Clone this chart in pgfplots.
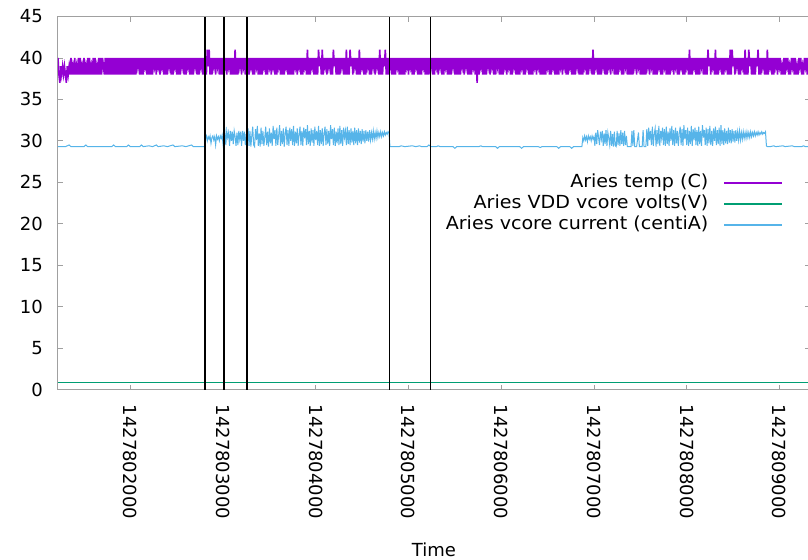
\documentclass[border=0pt]{standalone}
\usepackage{fontspec}
\setmainfont{DejaVu Sans}
\usepackage{pgfplots}
\pgfplotsset{compat=1.18}
\definecolor{tempc}{HTML}{9400D3}
\definecolor{voltc}{HTML}{009E73}
\definecolor{currc}{HTML}{56B4E9}
\definecolor{bord}{HTML}{A0A0A0}
\begin{document}
\fontsize{18bp}{22bp}\selectfont
\begin{tikzpicture}
\begin{axis}[
  scale only axis, width=752bp, height=373bp,
  xmin=122, xmax=933, ymin=0, ymax=45,
  xtick={200,300,400,500,600,700,800,900},
  xticklabels={1427802000,1427803000,1427804000,1427805000,1427806000,1427807000,1427808000,1427809000},
  ytick={0,5,...,45},
  /pgf/number format/assume math mode=true,
  xticklabel style={rotate=-90, anchor=west},
  xticklabel shift=9bp, yticklabel shift=9bp,
  tick align=inside, major tick length=5bp,
  tick style={bord, line width=0.8bp},
  axis line style={bord, line width=1bp},
  xlabel={Time},
  xlabel style={at={(rel axis cs:0.5,0)}, anchor=center, yshift=-160.5bp},
  legend style={draw=none, fill=none, at={(rel axis cs:0.9641,0.577)}, anchor=north east,
    inner sep=0pt, outer sep=0pt, row sep=4bp, column sep=15bp,
    nodes={inner sep=0pt, text height=13bp, text depth=4bp, xscale=1.06},
    font=\fontsize{18bp}{22bp}\selectfont},
  legend plot pos=right, legend cell align=right,
  legend image code/.code={\draw[#1] (0bp,0bp) -- (58bp,0bp);},
]
\coordinate (bl) at (rel axis cs:0,0);
\addlegendimage{tempc, line width=1.6bp}
\addlegendentry{Aries temp (C)}
\addlegendimage{voltc, line width=1.6bp}
\addlegendentry{Aries VDD vcore volts(V)}
\addlegendimage{currc, line width=1.6bp}
\addlegendentry{Aries vcore current (centiA)}
% Aries temp (C) -- x = (time - 1427800000)/10
\addplot[tempc, line width=1.6bp, forget plot] coordinates {
(122,40)(123,38)(124,37)(125,39)(126,38)(127,39)(128,38)(129,39)(130,38)(131,37)(132,39)(133,38)(134,39)
(135,38)(136,40)(137,38)(138,39)(139,38)(140,40)(141,38)(142,39)(143,38)(144,40)(145,38)(146,40)(147,38)(148,39)(149,38)(150,40)(151,38)(152,39)(153,38)(154,40)
(155,38)(156,40)(157,38)(158,39)(159,38)(160,40)(161,38)(162,40)(163,38)(164,39)(165,38)(166,40)(167,38)(168,40)(169,38)(170,40)(171,39)
(172,38)(173,40)(174,38)(175,40)(176,38)(177,40)(178,38)(179,40)(180,38)(181,40)(182,38)(183,40)(184,38)(185,40)(186,38)(187,40)(188,38)(189,40)(190,38)(191,40)
(192,38)(193,40)(194,38)(195,40)(196,38)(197,40)(198,38)(199,40)(200,38)(201,40)(202,38)(203,40)(204,38)(205,40)(206,38)(207,40)(208,39)(209,40)(210,38)(211,40)
(212,38)(213,40)(214,38)(215,40)(216,39)(217,40)(218,38)(219,40)(220,38)(221,40)(222,38)(223,40)(224,38)(225,40)(226,39)(227,40)(228,38)(229,40)(230,39)(231,40)
(232,38)(233,40)(234,39)(235,40)(236,38)(237,40)(238,38)(239,40)(240,38)(241,40)(242,39)(243,40)(244,38)(245,40)(246,38)(247,40)(248,39)(249,40)(250,38)(251,40)
(252,38)(253,40)(254,38)(255,40)(256,39)(257,40)(258,38)(259,40)(260,38)(261,40)(262,39)(263,40)(264,38)(265,40)(266,38)(267,40)(268,38)(269,40)(270,39)(271,40)
(272,38)(273,40)(274,38)(275,40)(276,39)(277,40)(278,38)(279,40)(280,38)(281,40)(282,38)(283,41)(284,39)(285,41)(286,38)(287,40)(288,38)(289,40)(290,39)(291,40)
(292,38)(293,40)(294,39)(295,40)(296,38)(297,40)(298,38)(299,40)(300,38)(301,40)(302,39)(303,40)(304,38)(305,40)(306,39)(307,40)(308,38)(309,40)(310,38)(311,40)
(312,38)(313,41)(314,38)(315,40)(316,38)(317,40)(318,39)(319,40)(320,38)(321,40)(322,39)(323,40)(324,38)(325,40)(326,38)(327,40)(328,38)(329,40)(330,39)(331,40)
(332,38)(333,40)(334,38)(335,40)(336,39)(337,40)(338,38)(339,40)(340,38)(341,40)(342,38)(343,40)(344,39)(345,40)(346,38)(347,40)(348,38)(349,40)(350,39)(351,40)
(352,38)(353,40)(354,39)(355,40)(356,38)(357,40)(358,38)(359,40)(360,39)(361,40)(362,38)(363,40)(364,38)(365,40)(366,38)(367,40)(368,39)(369,40)(370,38)(371,40)
(372,38)(373,40)(374,38)(375,40)(376,38)(377,40)(378,39)(379,40)(380,38)(381,40)(382,39)(383,40)(384,38)(385,40)(386,38)(387,40)(388,39)(389,40)(390,38)(391,41)
(392,38)(393,40)(394,38)(395,40)(396,39)(397,40)(398,38)(399,40)(400,38)(401,40)(402,38)(403,41)(404,39)(405,40)(406,38)(407,41)(408,38)(409,40)(410,39)(411,40)
(412,38)(413,40)(414,39)(415,40)(416,38)(417,40)(418,38)(419,41)(420,39)(421,40)(422,38)(423,40)(424,38)(425,40)(426,38)(427,40)(428,39)(429,40)(430,38)(431,40)
(432,38)(433,41)(434,38)(435,40)(436,38)(437,41)(438,39)(439,40)(440,38)(441,40)(442,39)(443,40)(444,38)(445,40)(446,38)(447,41)(448,38)(449,40)(450,39)(451,40)
(452,38)(453,40)(454,38)(455,40)(456,39)(457,40)(458,38)(459,40)(460,38)(461,40)(462,39)(463,40)(464,38)(465,40)(466,39)(467,40)(468,38)(469,41)(470,38)(471,40)
(472,38)(473,40)(474,39)(475,41)(476,38)(477,40)(478,38)(479,40)(480,39)(481,40)(482,38)(483,40)(484,38)(485,40)(486,38)(487,40)(488,39)(489,40)(490,38)(491,40)
(492,38)(493,40)(494,38)(495,40)(496,38)(497,40)(498,39)(499,40)(500,38)(501,40)(502,39)(503,40)(504,38)(505,40)(506,38)(507,40)(508,39)(509,40)(510,38)(511,40)
(512,38)(513,40)(514,38)(515,40)(516,39)(517,40)(518,38)(519,40)(520,38)(521,40)(522,38)(523,40)(524,39)(525,40)(526,38)(527,40)(528,38)(529,40)(530,39)(531,40)
(532,38)(533,40)(534,39)(535,40)(536,38)(537,40)(538,38)(539,40)(540,39)(541,40)(542,38)(543,40)(544,38)(545,40)(546,38)(547,40)(548,39)(549,40)(550,38)(551,40)
(552,38)(553,40)(554,38)(555,40)(556,38)(557,40)(558,39)(559,40)(560,38)(561,40)(562,39)(563,40)(564,38)(565,40)(566,38)(567,40)(568,38)(569,40)(570,39)(571,40)
(572,38)(573,40)(574,37)(575,40)(576,38)(577,40)(578,39)(579,40)(580,38)(581,40)(582,38)(583,40)(584,38)(585,40)(586,39)(587,40)(588,38)(589,40)(590,39)(591,40)
(592,38)(593,40)(594,38)(595,40)(596,39)(597,40)(598,38)(599,40)(600,38)(601,40)(602,38)(603,40)(604,39)(605,40)(606,38)(607,40)(608,39)(609,40)(610,38)(611,40)
(612,38)(613,40)(614,39)(615,40)(616,38)(617,40)(618,38)(619,40)(620,38)(621,40)(622,39)(623,40)(624,38)(625,40)(626,38)(627,40)(628,39)(629,40)(630,38)(631,40)
(632,38)(633,40)(634,38)(635,40)(636,39)(637,40)(638,38)(639,40)(640,39)(641,40)(642,38)(643,40)(644,38)(645,40)(646,38)(647,40)(648,38)(649,40)(650,39)(651,40)
(652,38)(653,40)(654,38)(655,40)(656,39)(657,40)(658,38)(659,40)(660,38)(661,40)(662,38)(663,40)(664,39)(665,40)(666,38)(667,40)(668,39)(669,40)(670,38)(671,40)
(672,38)(673,40)(674,39)(675,40)(676,38)(677,40)(678,38)(679,40)(680,38)(681,40)(682,39)(683,40)(684,38)(685,40)(686,38)(687,40)(688,38)(689,40)(690,39)(691,40)
(692,38)(693,40)(694,38)(695,40)(696,39)(697,40)(698,38)(699,41)(700,38)(701,40)(702,39)(703,40)(704,38)(705,40)(706,38)(707,40)(708,38)(709,40)(710,39)(711,40)
(712,38)(713,40)(714,38)(715,40)(716,39)(717,40)(718,38)(719,40)(720,39)(721,40)(722,38)(723,40)(724,38)(725,40)(726,38)(727,40)(728,39)(729,40)(730,38)(731,40)
(732,38)(733,40)(734,39)(735,40)(736,38)(737,40)(738,38)(739,40)(740,38)(741,40)(742,38)(743,40)(744,39)(745,40)(746,38)(747,40)(748,39)(749,40)(750,38)(751,40)
(752,38)(753,40)(754,38)(755,40)(756,38)(757,40)(758,39)(759,40)(760,38)(761,40)(762,39)(763,40)(764,38)(765,40)(766,38)(767,40)(768,38)(769,40)(770,39)(771,40)
(772,38)(773,40)(774,38)(775,40)(776,39)(777,40)(778,38)(779,40)(780,38)(781,40)(782,38)(783,40)(784,39)(785,40)(786,38)(787,40)(788,39)(789,40)(790,38)(791,40)
(792,38)(793,40)(794,39)(795,40)(796,38)(797,40)(798,38)(799,40)(800,39)(801,40)(802,38)(803,41)(804,38)(805,40)(806,38)(807,40)(808,39)(809,40)(810,38)(811,40)
(812,38)(813,40)(814,38)(815,40)(816,39)(817,40)(818,38)(819,40)(820,38)(821,40)(822,38)(823,41)(824,39)(825,40)(826,38)(827,40)(828,39)(829,40)(830,38)(831,41)
(832,38)(833,40)(834,38)(835,40)(836,39)(837,40)(838,38)(839,40)(840,38)(841,40)(842,39)(843,40)(844,38)(845,40)(846,38)(847,41)(848,38)(849,41)(850,39)(851,40)
(852,38)(853,40)(854,39)(855,40)(856,38)(857,40)(858,38)(859,40)(860,39)(861,40)(862,38)(863,41)(864,38)(865,40)(866,38)(867,41)(868,39)(869,40)(870,38)(871,40)
(872,38)(873,40)(874,38)(875,40)(876,39)(877,41)(878,38)(879,40)(880,38)(881,40)(882,39)(883,40)(884,38)(885,40)(886,38)(887,41)(888,38)(889,40)(890,39)(891,40)
(892,38)(893,40)(894,38)(895,40)(896,39)(897,40)(898,38)(899,40)(900,39)(901,40)(902,38)(903,39)(904,38)(905,40)(906,38)(907,40)(908,39)(909,40)(910,38)(911,39)
(912,38)(913,40)(914,39)(915,40)(916,38)(917,40)(918,38)(919,39)(920,38)(921,40)(922,39)(923,40)(924,38)(925,39)(926,38)(927,40)(928,39)(929,40)(930,38)(931,40)
(932,38)(933,40)
};
% Aries VDD vcore volts(V)
\addplot[voltc, line width=1bp, forget plot] coordinates {(122,0.87)(500,0.87)(933,0.87)};
% Aries vcore current (centiA)
\addplot[currc, line width=1bp, forget plot] coordinates {
(122,29.3)(130,29.3)(134,29.5)(136,29.3)(150,29.3)(152,29.5)(154,29.3)(180,29.3)(182,29.5)(184,29.3)(196,29.3)(198,29.5)(200,29.3)(210,29.3)(212,29.5)(214,29.3)(220,29.4)(224,29.3)(228,29.5)(230,29.3)(236,29.4)(240,29.3)(246,29.5)(248,29.3)(256,29.4)(260,29.3)(266,29.5)(268,29.3)(276,29.3)(280,29.3)
(281,30.3)(282,30.6)(283,30.0)(284,30.5)(285,30.2)(286,30.6)(287,29.7)(288,30.4)(289,30.6)(290,30.1)(291,30.5)(292,29.5)(293,30.6)(294,30.2)(295,30.5)(296,30.0)(297,30.6)(298,30.3)(299,30.7)(300,29.6)(301,30.4)
(302,31.1)(303,29.5)(304,31.2)(305,30.4)(306,31.0)(307,29.4)(308,31.2)(309,30.0)(310,31.1)(311,29.6)(312,31.2)(313,30.5)(314,29.4)(315,31.0)(316,29.5)(317,31.2)(318,30.2)(319,31.1)(320,29.4)(321,31.2)(322,30.0)(323,31.1)(324,29.5)(325,30.8)(326,29.4)
(327,31.5)(328,29.4)(329,31.2)(330,29.3)(331,30.6)(332,31.7)(333,29.5)(334,29.3)(335,31.4)(336,30.1)(337,31.8)(338,29.4)(339,30.9)(340,29.3)(341,31.6)(342,29.6)(343,31.2)(344,29.4)(345,30.4)(346,31.7)
(347,29.5)(348,31.1)(349,29.3)(350,31.5)(351,29.7)(352,31.0)(353,29.4)(354,31.8)(355,30.2)(356,31.3)(357,29.4)(358,31.6)(359,29.5)(360,30.7)(361,31.9)(362,29.4)(363,31.2)(364,29.6)(365,31.5)(366,29.3)
(367,30.9)(368,31.7)(369,29.5)(370,31.3)(371,29.4)(372,31.6)(373,30.0)(374,31.4)(375,29.5)(376,31.8)(377,29.4)(378,31.1)(379,29.7)(380,31.5)(381,29.4)(382,30.8)(383,31.7)(384,29.5)(385,31.2)(386,29.4)
(387,31.6)(388,30.3)(389,31.4)(390,29.5)(391,31.9)(392,29.6)(393,31.2)(394,29.4)(395,31.5)(396,29.8)(397,31.3)(398,29.4)(399,31.7)(400,30.1)(401,31.2)(402,29.5)(403,31.8)(404,29.4)(405,31.3)(406,29.6)
(407,31.5)(408,29.4)(409,30.9)(410,31.7)(411,29.5)(412,31.4)(413,29.6)(414,31.2)(415,29.4)(416,31.9)(417,30.2)(418,31.4)(419,29.5)(420,31.6)(421,29.4)(422,31.1)(423,29.7)(424,31.5)(425,29.5)(426,31.8)
(427,29.6)(428,31.3)(429,29.4)(430,31.6)(431,30.4)(432,31.2)(433,29.5)(434,31.7)(435,29.6)(436,31.3)(437,29.5)(438,31.5)(439,29.8)(440,31.2)(441,29.5)(442,31.6)(443,29.7)(444,31.3)(445,29.5)(446,31.5)
(447,29.8)(448,31.2)(449,29.6)(450,31.4)(451,29.9)(452,31.2)(453,29.7)(454,31.3)(455,30.0)(456,31.1)(457,29.9)(458,31.3)(459,30.1)(460,31.0)(461,30.2)(462,31.2)(463,30.2)(464,31.0)(465,30.3)(466,31.2)
(467,30.4)(468,31.0)(469,30.5)(470,31.1)(471,30.5)(472,31.0)(473,30.6)(474,31.1)(475,30.7)(476,31.0)(477,30.8)(478,31.1)(479,30.9)
(480,29.3)(490,29.3)(492,29.4)(496,29.3)(504,29.4)(508,29.3)(512,29.4)(514,29.3)(520,29.3)(522,29.5)(524,29.3)(530,29.3)(532,29.4)(534,29.3)(548,29.3)(550,29.1)(552,29.3)(576,29.3)(578,29.4)(580,29.3)
(594,29.3)(596,29.1)(598,29.3)(620,29.3)(622,29.1)(624,29.3)(640,29.3)(642,29.2)(644,29.3)(660,29.3)(662,29.1)(664,29.3)(674,29.3)(676,29.1)(678,29.3)(687,29.3)
(688,30.4)(689,30.0)(690,30.6)(691,30.1)(692,30.5)(693,29.9)(694,30.6)(695,30.2)(696,30.5)(697,30.0)(698,30.6)(699,30.2)(700,30.5)
(701,29.4)(702,31.0)(703,29.6)(704,31.3)(705,30.4)(706,29.5)(707,31.1)(708,30.2)(709,31.2)(710,29.4)(711,30.9)(712,29.6)(713,31.3)(714,29.4)(715,31.0)(716,30.3)(717,29.5)(718,31.2)(719,29.4)(720,30.8)
(721,29.3)(722,31.1)(723,29.4)(724,29.3)(725,31.2)(726,29.5)(727,30.9)(728,29.4)(729,31.3)(730,29.6)(731,31.0)(732,29.4)(733,31.2)(734,29.5)(735,30.6)(736,29.3)
(740,29.3)(741,31.2)(742,29.4)(743,31.3)(744,29.3)(746,29.3)(748,31.0)(749,29.3)(752,29.3)(753,31.3)(754,29.3)(756,29.3)
(757,31.4)(758,29.4)(759,31.6)(760,30.1)(761,31.2)(762,29.5)(763,31.7)(764,29.4)(765,30.8)(766,31.5)(767,29.3)(768,31.3)(769,29.6)(770,31.8)(771,29.4)(772,31.2)(773,30.3)(774,31.6)(775,29.5)(776,31.4)
(777,29.4)(778,31.7)(779,29.6)(780,31.1)(781,29.4)(782,31.5)(783,30.0)(784,31.8)(785,29.5)(786,31.3)(787,29.4)(788,31.6)(789,29.7)(790,31.2)(791,29.4)(792,30.9)(793,31.7)(794,29.5)(795,31.4)(796,29.4)
(797,31.9)(798,30.2)(799,31.3)(800,29.5)(801,31.6)(802,29.4)(803,31.2)(804,29.6)(805,31.8)(806,29.4)(807,31.4)(808,30.1)(809,31.6)(810,29.5)(811,31.3)(812,29.4)(813,31.7)(814,29.6)(815,31.2)(816,29.4)
(817,31.9)(818,30.4)(819,31.3)(820,29.5)(821,31.6)(822,29.4)(823,31.4)(824,29.7)(825,31.8)(826,29.5)(827,31.2)(828,29.4)(829,31.5)(830,30.0)(831,31.7)(832,29.5)(833,31.3)(834,29.6)(835,31.6)(836,29.4)
(837,31.9)(838,29.6)(839,31.3)(840,29.5)(841,31.5)(842,29.7)(843,31.2)(844,29.6)(845,31.6)(846,29.8)(847,31.3)(848,29.7)(849,31.4)(850,29.9)(851,31.2)(852,29.8)(853,31.3)(854,30.0)(855,31.1)(856,30.1)
(857,31.2)(858,30.1)(859,31.0)(860,30.2)(861,31.1)(862,30.3)(863,31.0)(864,30.3)(865,31.1)(866,30.4)(867,31.0)(868,30.4)(869,31.1)(870,30.5)(871,31.0)(872,30.6)(873,31.1)(874,30.6)(875,31.0)(876,30.7)
(877,31.1)(878,30.7)(879,31.0)(880,30.8)(881,31.1)(882,30.8)(883,31.0)(884,30.9)(885,31.1)(886,29.4)(887,29.3)
(890,29.3)(894,29.4)(896,29.3)(904,29.4)(906,29.3)(914,29.4)(916,29.3)(924,29.3)(926,29.4)(928,29.3)(933,29.3)
};
% event markers
\addplot[black, line width=1.5bp, forget plot] coordinates {(280.6,0)(280.6,45)};
\addplot[black, line width=1.5bp, forget plot] coordinates {(301.1,0)(301.1,45)};
\addplot[black, line width=1.5bp, forget plot] coordinates {(325.6,0)(325.6,45)};
\addplot[black, line width=1.5bp, forget plot] coordinates {(479.4,0)(479.4,45)};
\addplot[black, line width=1.5bp, forget plot] coordinates {(523.6,0)(523.6,45)};
\end{axis}
\pgfresetboundingbox
\path[use as bounding box] ([shift={(-58bp,-170.5bp)}]bl) rectangle ([shift={(750bp,389.5bp)}]bl);
\end{tikzpicture}
\end{document}
